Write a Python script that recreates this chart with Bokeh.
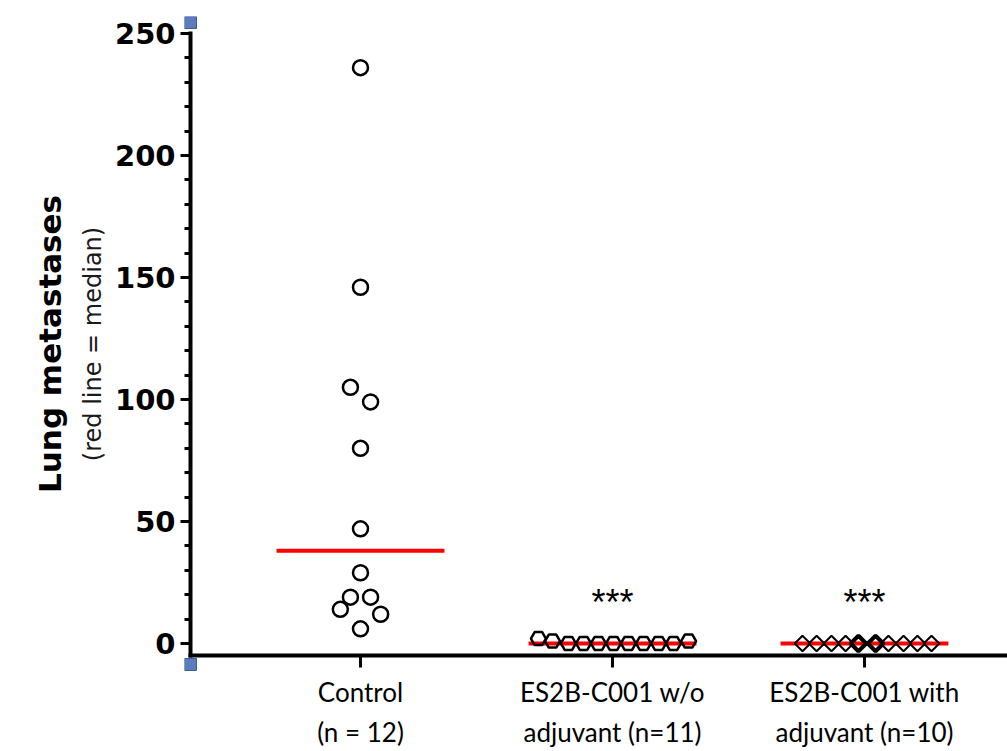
import numpy as np
from bokeh.plotting import figure
from bokeh.models import Range1d, FixedTicker, LinearAxis, Label
from bokeh.embed import file_html
from bokeh.resources import INLINE

# ---- data ----
groups = ["Control", "ES2B-C001 w/o adjuvant", "ES2B-C001 with adjuvant"]
group_labels = ["Control\n(n = 12)", "ES2B-C001 w/o\nadjuvant (n=11)", "ES2B-C001 with\nadjuvant (n=10)"]
control_vals = [236, 146, 105, 99, 80, 47, 29, 19, 19, 14, 12, 6]
control_dx = [0, 0, -0.04, 0.04, 0, 0, 0, -0.04, 0.04, -0.08, 0.08, 0]
wo_vals = [2, 1, 0, 0, 0, 0, 0, 0, 0, 0, 1]
wo_dx = [-0.294, -0.238, -0.175, -0.115, -0.056, 0.004, 0.063, 0.123, 0.183, 0.242, 0.302]
with_vals = [0, 0, 0, 0, 0, 0, 0, 0, 0, 0]
with_dx = [-0.246, -0.190, -0.131, -0.075, -0.024, 0.044, 0.095, 0.155, 0.210, 0.266]
with_lw = [2, 2, 2, 2, 4, 4, 2, 2, 2, 2]
signif = ["", "***", "***"]
y_ticks = [0, 50, 100, 150, 200, 250]
y_minor = [v for v in range(10, 250, 10) if v % 50]

# ---- layout constants ----
X0, X1 = 0.3016, 3.5675      # frame x range
Y0, Y1 = -11.48, 256.97      # frame y range
AX_X = 0.3254                # y-axis line position
AX_Y = -4.9                  # x-axis line position
PX_X = 1 / 252.0             # data units per pixel (x)
PX_Y = 1 / 2.44              # data units per pixel (y)

p = figure(width=1007, height=751, output_backend="svg", toolbar_location=None,
           x_range=Range1d(X0, X1), y_range=Range1d(Y0, Y1),
           min_border_left=184, min_border_right=0, min_border_top=16, min_border_bottom=80)
p.outline_line_color = None
p.grid.visible = False
p.background_fill_color = "white"
p.border_fill_color = "white"

# y axis (ticks + labels from the library axis, line drawn at AX_X)
ya = p.yaxis[0]
ya.ticker = FixedTicker(ticks=y_ticks, minor_ticks=y_minor)
ya.axis_line_color = None
ya.major_tick_line_width = 3
ya.major_tick_in = 6
ya.major_tick_out = 4
ya.minor_tick_line_width = 3
ya.minor_tick_in = 6
ya.minor_tick_out = 0
ya.major_label_text_font = "DejaVu Sans"
ya.major_label_text_font_style = "bold"
ya.major_label_text_font_size = "29px"
ya.major_label_text_color = "black"
ya.major_label_standoff = 5
ya.axis_label = "(red line = median)"
ya.axis_label_text_font = "DejaVu Sans"
ya.axis_label_text_font_style = "normal"
ya.axis_label_text_font_size = "24px"
ya.axis_label_text_color = "#1a1a1a"
ya.axis_label_standoff = 5

ya2 = LinearAxis(ticker=FixedTicker(ticks=[]), axis_line_color=None,
                 major_tick_line_color=None, minor_tick_line_color=None,
                 major_label_text_font_size="0px",
                 axis_label="Lung metastases", axis_label_text_font="DejaVu Sans",
                 axis_label_text_font_style="bold", axis_label_text_font_size="31px",
                 axis_label_text_color="black", axis_label_standoff=8)
p.add_layout(ya2, "left")

# x axis
xa = p.xaxis[0]
xa.ticker = FixedTicker(ticks=[1, 2, 3])
xa.axis_line_color = None
xa.major_tick_line_width = 3
xa.major_tick_in = 16
xa.major_tick_out = -4
xa.minor_tick_line_color = None
xa.major_label_overrides = {i + 1: t for i, t in enumerate(group_labels)}
xa.major_label_text_font = "Lato"
xa.major_label_text_font_size = "26px"
xa.major_label_text_line_height = 1.28
xa.major_label_text_color = "black"
xa.major_label_standoff = 4

# axis lines
p.segment(x0=[AX_X, AX_X - 2 * PX_X], x1=[AX_X, X1], y0=[AX_Y - 2 * PX_Y, AX_Y], y1=[y_ticks[-1] + 0.8, AX_Y],
          line_color="black", line_width=4)

# medians
xs = np.array([1, 2, 3], dtype=float)
meds = [float(np.median(control_vals)), float(np.median(wo_vals)), float(np.median(with_vals))]
p.segment(x0=xs - 0.333, x1=xs + 0.333, y0=meds, y1=meds, line_color="#ff0000", line_width=4)

# points
p.scatter(x=[1 + d for d in control_dx], y=control_vals, marker="circle", size=15,
          fill_color="white", line_color="black", line_width=2.5)
p.scatter(x=[2 + d for d in wo_dx], y=wo_vals, marker="hex", size=15,
          fill_color=None, line_color="black", line_width=2.5)
p.scatter(x=[3 + d for d in with_dx], y=with_vals, marker="square", angle=np.pi / 4, size=11,
          fill_color=None, line_color="black", line_width=with_lw)

# significance
for i, s in enumerate(signif):
    if s:
        p.add_layout(Label(x=xs[i], y=17, text=s, text_align="center", text_baseline="alphabetic",
                           text_font="Liberation Sans", text_font_size="36px", text_color="black"))

# selection handles at the ends of the y axis
p.rect(x=[AX_X, AX_X], y=[254.5, -8.6], width=12, height=12, width_units="screen",
       height_units="screen", fill_color="#5b7cbf", line_color="#3a5a98", line_width=1)

open("out.html", "w").write(file_html(p, INLINE))
